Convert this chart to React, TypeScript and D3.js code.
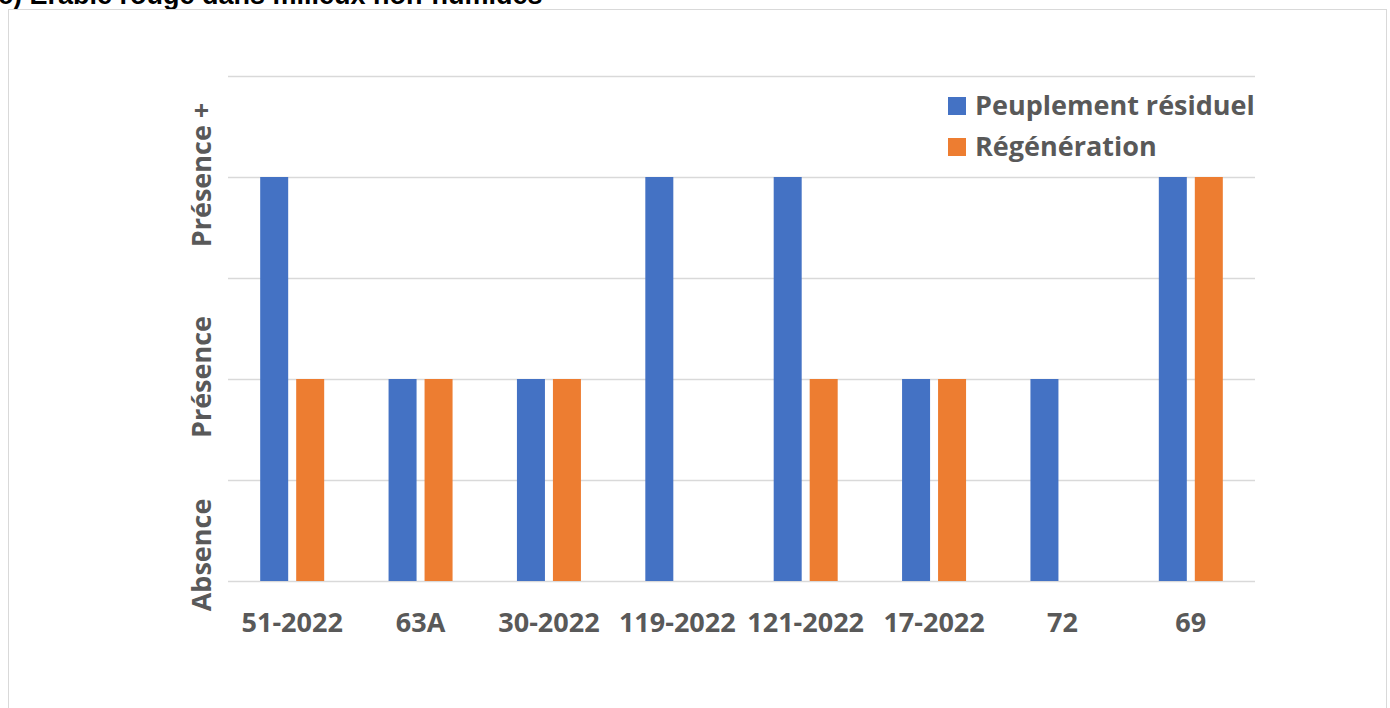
import React from "react";
import * as d3 from "d3";

// Sites (categories) and presence classes for each layer
const sites = ["51-2022", "63A", "30-2022", "119-2022", "121-2022", "17-2022", "72", "69"];
const seriesNames = ["Peuplement résiduel", "Régénération"];
// 0 = Absence, 2 = Présence, 4 = Présence +
const residuel = [4, 2, 2, 4, 4, 2, 2, 4];
const regeneration = [2, 2, 2, 0, 2, 2, 0, 4];
const yTickValues = [0, 2, 4];
const yTickLabels = ["Absence", "Présence", "Présence +"];
const seriesColors = ["#4472C4", "#ED7D31"];
const title = "c) Érable rouge dans milieux non-humides";

const W = 1390;
const H = 708;
const plot = { left: 228, right: 1255, top: 76, bottom: 581 };
const labelFont = "'Open Sans', 'Noto Sans', sans-serif";
const textColor = "#595959";

export default function App() {
  const x0 = d3.scaleBand<string>().domain(sites).range([plot.left, plot.right]).paddingInner(0).paddingOuter(0);
  const groupW = 64;
  const x1 = d3
    .scaleBand<string>()
    .domain(seriesNames)
    .range([0, groupW])
    .paddingInner(0.222)
    .paddingOuter(0);
  const y = d3.scaleLinear().domain([0, 5]).range([plot.bottom, plot.top]);
  const gridTicks = d3.range(0, 6);
  const seriesValues = [residuel, regeneration];

  return (
    <svg
      width={W}
      height={H}
      style={{ position: "absolute", left: 0, top: 0, background: "#fff" }}
    >
      <text
        x={-2}
        y={4}
        fontFamily="'Liberation Sans', Arial, sans-serif"
        fontWeight="bold"
        fontSize={27}
        fill="#000"
      >
        {title}
      </text>
      <rect x={8.5} y={9.5} width={1378} height={740} fill="#fff" stroke="#d9d9d9" strokeWidth={1} />

      {/* gridlines */}
      {gridTicks.map((t) => (
        <line
          key={t}
          x1={plot.left}
          x2={plot.right}
          y1={Math.round(y(t)) + 0.5}
          y2={Math.round(y(t)) + 0.5}
          stroke="#d9d9d9"
          strokeWidth={1.5}
        />
      ))}

      {/* bars */}
      {sites.map((s, i) => {
        const gx = (x0(s) ?? 0) + x0.bandwidth() / 2 - groupW / 2;
        return seriesNames.map((name, k) => {
          const v = seriesValues[k][i];
          if (v <= 0) return null;
          return (
            <rect
              key={s + name}
              x={gx + (x1(name) ?? 0)}
              y={y(v)}
              width={x1.bandwidth()}
              height={y(0) - y(v)}
              fill={seriesColors[k]}
            />
          );
        });
      })}

      {/* y tick labels, rotated */}
      {yTickValues.map((v, i) => {
        const cy = v === 0 ? y(v) - 26 : y(v) - 2;
        return (
          <text
            key={v}
            transform={`translate(211,${cy}) rotate(-90)`}
            textAnchor="middle"
            fontFamily={labelFont}
            fontWeight="bold"
            fontSize={27}
            fill={textColor}
          >
            {yTickLabels[i]}
          </text>
        );
      })}

      {/* category labels */}
      {sites.map((s) => (
        <text
          key={s}
          x={(x0(s) ?? 0) + x0.bandwidth() / 2}
          y={632}
          textAnchor="middle"
          fontFamily={labelFont}
          fontWeight="bold"
          fontSize={27}
          fill={textColor}
        >
          {s}
        </text>
      ))}

      {/* legend */}
      {seriesNames.map((name, k) => (
        <g key={name} transform={`translate(948,${97 + k * 41})`}>
          <rect x={0} y={0} width={18} height={18} fill={seriesColors[k]} />
          <text
            x={27}
            y={18}
            fontFamily={labelFont}
            fontWeight="bold"
            fontSize={27}
            fill={textColor}
          >
            {name}
          </text>
        </g>
      ))}
    </svg>
  );
}
